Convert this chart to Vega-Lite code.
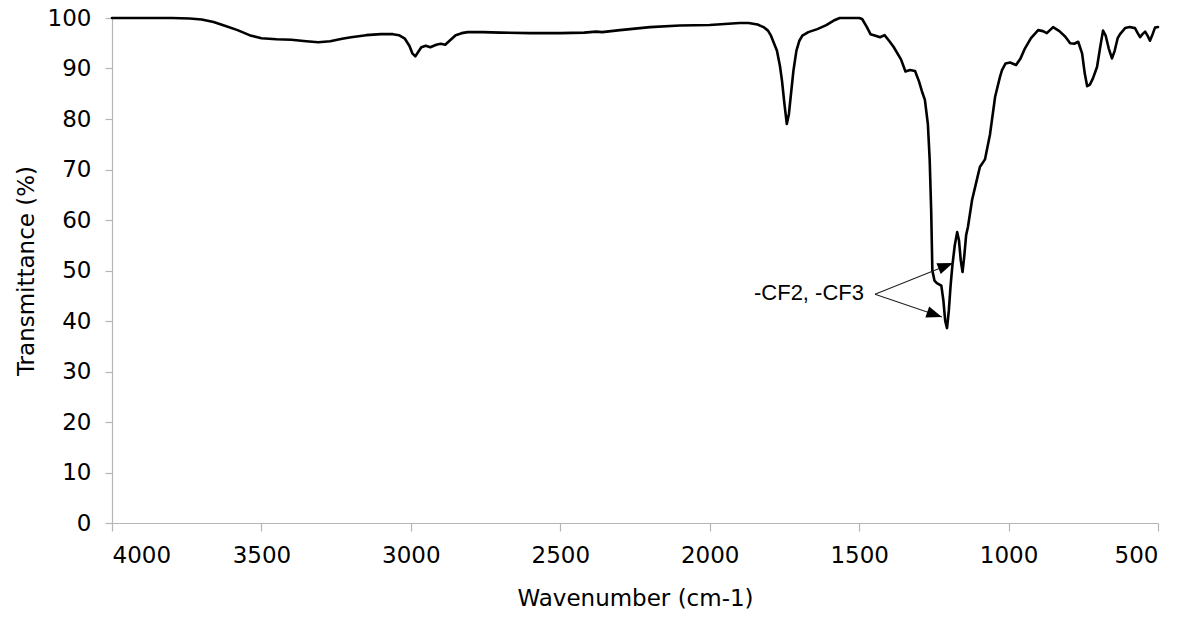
{
  "$schema": "https://vega.github.io/schema/vega-lite/v6.json",
  "width": 1046,
  "height": 505,
  "autosize": {"type": "none"},
  "padding": {"left": 112, "top": 18, "right": 32, "bottom": 94},
  "background": "white",
  "config": {
    "view": {"stroke": null},
    "font": "DejaVu Sans",
    "axis": {
      "grid": false,
      "domainColor": "#b5b5b5",
      "tickColor": "#b5b5b5",
      "domainWidth": 1.2,
      "tickWidth": 1.2,
      "labelColor": "#000000",
      "titleColor": "#000000",
      "labelFont": "DejaVu Sans",
      "titleFont": "DejaVu Sans",
      "labelFontSize": 23,
      "titleFontSize": 23,
      "titleFontWeight": "normal"
    }
  },
  "datasets": {
    "spectrum": [
      {"w": 4000, "t": 100}, {"w": 3800, "t": 100}, {"w": 3740, "t": 99.9}, {"w": 3700, "t": 99.7},
      {"w": 3660, "t": 99.2}, {"w": 3620, "t": 98.4}, {"w": 3580, "t": 97.6}, {"w": 3540, "t": 96.6},
      {"w": 3500, "t": 96.0}, {"w": 3450, "t": 95.8}, {"w": 3400, "t": 95.7}, {"w": 3350, "t": 95.4},
      {"w": 3310, "t": 95.2}, {"w": 3270, "t": 95.4}, {"w": 3230, "t": 95.9}, {"w": 3200, "t": 96.2},
      {"w": 3150, "t": 96.6}, {"w": 3100, "t": 96.8}, {"w": 3060, "t": 96.8}, {"w": 3040, "t": 96.6},
      {"w": 3020, "t": 95.9}, {"w": 3005, "t": 94.5}, {"w": 2995, "t": 93.0}, {"w": 2985, "t": 92.4},
      {"w": 2975, "t": 93.3}, {"w": 2965, "t": 94.2}, {"w": 2950, "t": 94.5}, {"w": 2935, "t": 94.2},
      {"w": 2915, "t": 94.7}, {"w": 2900, "t": 94.9}, {"w": 2885, "t": 94.7}, {"w": 2865, "t": 95.8},
      {"w": 2850, "t": 96.6}, {"w": 2830, "t": 97.0}, {"w": 2810, "t": 97.2}, {"w": 2760, "t": 97.2},
      {"w": 2700, "t": 97.1}, {"w": 2600, "t": 97.0}, {"w": 2500, "t": 97.0}, {"w": 2420, "t": 97.1},
      {"w": 2380, "t": 97.3}, {"w": 2360, "t": 97.2}, {"w": 2300, "t": 97.6}, {"w": 2200, "t": 98.2},
      {"w": 2100, "t": 98.5}, {"w": 2000, "t": 98.6}, {"w": 1950, "t": 98.8}, {"w": 1900, "t": 99.0},
      {"w": 1870, "t": 99.0}, {"w": 1840, "t": 98.7}, {"w": 1820, "t": 98.2}, {"w": 1805, "t": 97.5},
      {"w": 1795, "t": 96.5}, {"w": 1785, "t": 95.0}, {"w": 1775, "t": 93.5}, {"w": 1765, "t": 90.5},
      {"w": 1758, "t": 87.5}, {"w": 1750, "t": 83.0}, {"w": 1742, "t": 79.0}, {"w": 1735, "t": 81.0},
      {"w": 1728, "t": 85.0}, {"w": 1720, "t": 89.5}, {"w": 1710, "t": 93.5}, {"w": 1700, "t": 95.5},
      {"w": 1690, "t": 96.5}, {"w": 1670, "t": 97.2}, {"w": 1640, "t": 97.8}, {"w": 1610, "t": 98.6},
      {"w": 1585, "t": 99.5}, {"w": 1565, "t": 100}, {"w": 1500, "t": 100}, {"w": 1490, "t": 99.8},
      {"w": 1475, "t": 98.3}, {"w": 1462, "t": 96.8}, {"w": 1445, "t": 96.5}, {"w": 1430, "t": 96.2},
      {"w": 1415, "t": 96.6}, {"w": 1400, "t": 95.5}, {"w": 1385, "t": 94.3}, {"w": 1360, "t": 91.8},
      {"w": 1345, "t": 89.4}, {"w": 1330, "t": 89.7}, {"w": 1313, "t": 89.5}, {"w": 1300, "t": 87.5},
      {"w": 1290, "t": 85.5}, {"w": 1280, "t": 83.8}, {"w": 1270, "t": 79.0}, {"w": 1264, "t": 72.0},
      {"w": 1259, "t": 62.0}, {"w": 1255, "t": 50.0}, {"w": 1248, "t": 48.0}, {"w": 1240, "t": 47.5},
      {"w": 1225, "t": 47.0}, {"w": 1218, "t": 44.0}, {"w": 1212, "t": 40.0}, {"w": 1206, "t": 38.6},
      {"w": 1200, "t": 42.0}, {"w": 1194, "t": 47.0}, {"w": 1188, "t": 51.0}, {"w": 1180, "t": 55.0},
      {"w": 1172, "t": 57.6}, {"w": 1166, "t": 56.0}, {"w": 1160, "t": 52.0}, {"w": 1154, "t": 49.7},
      {"w": 1148, "t": 53.0}, {"w": 1142, "t": 57.0}, {"w": 1136, "t": 58.6}, {"w": 1122, "t": 64.0},
      {"w": 1106, "t": 68.0}, {"w": 1096, "t": 70.5}, {"w": 1079, "t": 72.0}, {"w": 1062, "t": 77.0},
      {"w": 1045, "t": 84.4}, {"w": 1029, "t": 88.3}, {"w": 1022, "t": 89.7}, {"w": 1010, "t": 91.0},
      {"w": 995, "t": 91.2}, {"w": 975, "t": 90.7}, {"w": 960, "t": 92.0}, {"w": 945, "t": 94.0},
      {"w": 925, "t": 96.0}, {"w": 901, "t": 97.6}, {"w": 885, "t": 97.4}, {"w": 872, "t": 97.0},
      {"w": 851, "t": 98.2}, {"w": 830, "t": 97.4}, {"w": 810, "t": 96.3}, {"w": 794, "t": 95.0},
      {"w": 780, "t": 94.9}, {"w": 767, "t": 95.3}, {"w": 754, "t": 93.0}, {"w": 745, "t": 89.0},
      {"w": 737, "t": 86.5}, {"w": 728, "t": 86.8}, {"w": 718, "t": 88.0}, {"w": 704, "t": 90.3},
      {"w": 694, "t": 94.0}, {"w": 684, "t": 97.5}, {"w": 675, "t": 96.5}, {"w": 665, "t": 94.0},
      {"w": 654, "t": 92.0}, {"w": 645, "t": 93.5}, {"w": 635, "t": 96.0}, {"w": 627, "t": 96.8},
      {"w": 610, "t": 98.0}, {"w": 595, "t": 98.2}, {"w": 577, "t": 98.0}, {"w": 568, "t": 97.0},
      {"w": 560, "t": 96.2}, {"w": 552, "t": 96.8}, {"w": 543, "t": 97.3}, {"w": 535, "t": 96.5},
      {"w": 527, "t": 95.5}, {"w": 518, "t": 96.8}, {"w": 510, "t": 98.1}, {"w": 500, "t": 98.2}
    ],
    "arrows": [
      {"id": "upper", "label": "-CF2, -CF3", "w": 1447, "t": 45.3, "w2": 1186, "t2": 51.5},
      {"id": "lower", "label": "-CF2, -CF3", "w": 1447, "t": 45.3, "w2": 1223, "t2": 40.8}
    ]
  },
  "layer": [
    {
      "data": {"name": "spectrum"},
      "mark": {"type": "line", "color": "#000000", "strokeWidth": 2.6, "strokeJoin": "round", "strokeCap": "round"},
      "encoding": {
        "x": {
          "field": "w", "type": "quantitative",
          "scale": {"domain": [500, 4000], "reverse": true, "nice": false, "zero": false},
          "axis": {
            "title": "Wavenumber (cm-1)",
            "format": "d",
            "values": [4000, 3500, 3000, 2500, 2000, 1500, 1000, 500],
            "tickSize": 8,
            "labelPadding": 13,
            "titlePadding": 20
          }
        },
        "y": {
          "field": "t", "type": "quantitative",
          "scale": {"domain": [0, 100], "nice": false},
          "axis": {
            "title": "Transmittance (%)",
            "format": "d",
            "values": [0, 10, 20, 30, 40, 50, 60, 70, 80, 90, 100],
            "tickSize": 7,
            "labelPadding": 14,
            "titlePadding": 9
          }
        }
      }
    },
    {
      "data": {"name": "arrows"},
      "mark": {"type": "rule", "color": "#222222", "strokeWidth": 1.1},
      "encoding": {
        "x": {"field": "w", "type": "quantitative"},
        "y": {"field": "t", "type": "quantitative"},
        "x2": {"field": "w2"},
        "y2": {"field": "t2"}
      }
    },
    {
      "data": {"name": "arrows"},
      "transform": [{"filter": "datum.id === 'upper'"}],
      "mark": {"type": "point", "shape": "M0,0 L-2,-0.75 L-2,0.75 Z", "filled": true, "color": "#000000", "opacity": 1, "size": 240, "angle": -21.7},
      "encoding": {
        "x": {"field": "w2", "type": "quantitative"},
        "y": {"field": "t2", "type": "quantitative"}
      }
    },
    {
      "data": {"name": "arrows"},
      "transform": [{"filter": "datum.id === 'lower'"}],
      "mark": {"type": "point", "shape": "M0,0 L-2,-0.75 L-2,0.75 Z", "filled": true, "color": "#000000", "opacity": 1, "size": 240, "angle": 18.9},
      "encoding": {
        "x": {"field": "w2", "type": "quantitative"},
        "y": {"field": "t2", "type": "quantitative"}
      }
    },
    {
      "data": {"name": "arrows"},
      "transform": [{"filter": "datum.id === 'upper'"}],
      "mark": {"type": "text", "font": "Liberation Sans", "fontSize": 22, "align": "right", "baseline": "alphabetic", "dx": -11, "dy": 6, "color": "#000000"},
      "encoding": {
        "x": {"field": "w", "type": "quantitative"},
        "y": {"field": "t", "type": "quantitative"},
        "text": {"field": "label"}
      }
    }
  ]
}
